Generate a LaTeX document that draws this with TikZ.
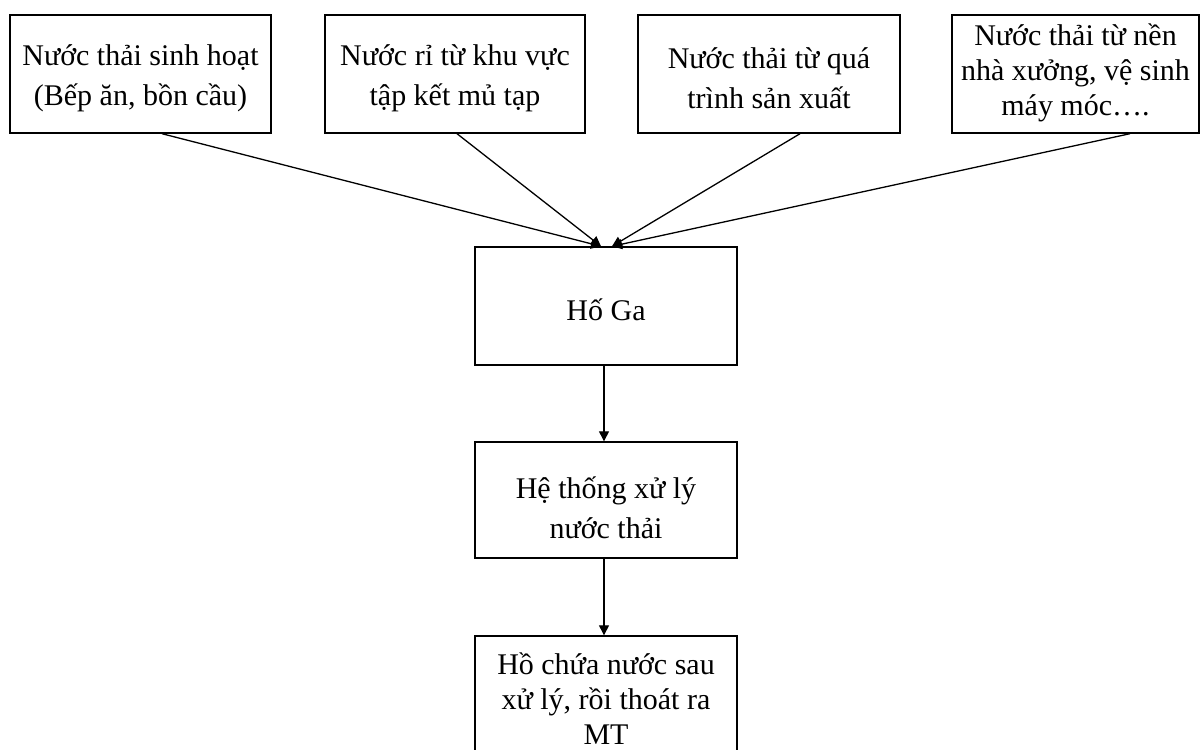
\documentclass[tikz,border=0pt]{standalone}
\usepackage{fontspec}
\setmainfont{Liberation Serif}
\usetikzlibrary{arrows.meta}
\begin{document}
\begin{tikzpicture}[x=1pt,y=-1pt,
  boxnode/.style={draw=black,line width=1.4pt,minimum height=118pt,inner sep=0pt},
  txt/.style={align=center,font=\fontsize{30pt}{40pt}\selectfont,inner sep=0pt},
  txtt/.style={align=center,font=\fontsize{30pt}{35pt}\selectfont,inner sep=0pt},
  conn/.style={line width=1.3pt,-{Triangle[length=10pt,width=10pt]}}]
\clip (0,0) rectangle (1201,749);
\fill[white] (0,0) rectangle (1201,749);
% boxes
\node[boxnode,minimum width=261pt] (b1) at (140.5,74) {};
\node[boxnode,minimum width=260pt] (b2) at (455,74) {};
\node[boxnode,minimum width=262pt] (b3) at (769,74) {};
\node[boxnode,minimum width=247pt] (b4) at (1075.5,74) {};
\node[boxnode,minimum width=262pt] (hoga) at (606,306) {};
\node[boxnode,minimum width=262pt,minimum height=116pt] (ht) at (606,500) {};
\node[boxnode,minimum width=262pt,minimum height=134pt] (hc) at (606,703) {};
% texts
\node[txt] (t1) at (140.5,78) {Nước thải sinh hoạt\\(Bếp ăn, bồn cầu)};
\node[txt] (t2) at (455,78) {Nước rỉ từ khu vực\\tập kết mủ tạp};
\node[txt] (t3) at (769,78) {Nước thải từ quá\\trình sản xuất};
\node[txtt] (t4) at (1075.5,73) {Nước thải từ nền\\nhà xưởng, vệ sinh\\máy móc….};
\node[txt] (t5) at (606,310) {Hố Ga};
\node[txt] (t6) at (606,508) {Hệ thống xử lý\\nước thải};
\node[txtt] (t7) at (606,699) {Hồ chứa nước sau\\xử lý, rồi thoát ra\\MT};
% connectors
\draw[conn] ([xshift=21.5pt]b1.south) -- ([xshift=-5pt]hoga.north);
\draw[conn] ([xshift=2pt]b2.south) -- ([xshift=-5pt]hoga.north);
\draw[conn] ([xshift=31pt]b3.south) -- ([xshift=6pt]hoga.north);
\draw[conn] ([xshift=54.5pt]b4.south) -- ([xshift=6pt]hoga.north);
\draw[conn] ([xshift=-2pt]hoga.south) -- ([xshift=-2pt]ht.north);
\draw[conn] ([xshift=-2pt]ht.south) -- ([xshift=-2pt]hc.north);
\end{tikzpicture}
\end{document}
